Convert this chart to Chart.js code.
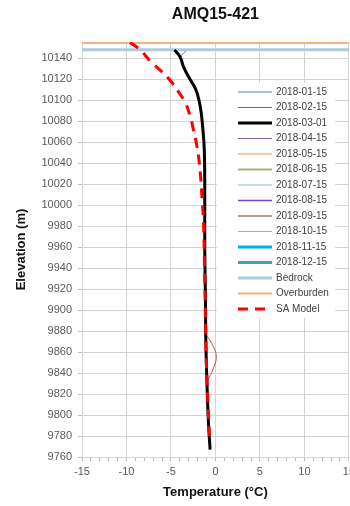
<!DOCTYPE html>
<html>
<head>
<meta charset="utf-8">
<script src="https://cdn.jsdelivr.net/npm/chart.js@4.4.1/dist/chart.umd.min.js"></script>
<style>
html,body{margin:0;padding:0;background:#fff;overflow:hidden;}
</style>
</head>
<body>
<canvas id="profileChart" width="359" height="506"></canvas>
<script>
// series names, in legend order
const seriesNames = [
  "2018-01-15","2018-02-15","2018-03-01","2018-04-15","2018-05-15","2018-06-15",
  "2018-07-15","2018-08-15","2018-09-15","2018-10-15","2018-11-15","2018-12-15",
  "Bedrock","Overburden","SA Model"
];

// 2018-03-01 measured profile
const elevMar01 = [10148,10141,10132,10122,10111,10100,10088,10076,10052,10005,9957,9910,9871,9833,9795,9767];
const tempMar01 = [-4.6,-3.95,-3.6,-3.0,-2.25,-1.85,-1.6,-1.45,-1.25,-1.2,-1.2,-1.12,-1.08,-0.96,-0.8,-0.6];

// 2018-02-15 (only the small bulge shows)
const elevFeb15 = [9877,9868,9856,9843,9832];
const tempFeb15 = [-1.1,-0.4,0.1,-0.3,-0.95];

// 2018-01-15 (short tick near the collar)
const elevJan15 = [10148,10142,10147];
const tempJan15 = [-4.4,-3.95,-3.3];

// SA model
const elevModel = [10155,10148,10137,10127,10119,10108,10098,10085,10071,10057,10043,10025,10005,9986,9929,9871,9833,9775];
const tempModel = [-9.6,-8.45,-7.3,-6.0,-5.1,-4.15,-3.4,-2.85,-2.45,-2.1,-1.85,-1.65,-1.5,-1.35,-1.2,-1.08,-0.95,-0.65];

// reference levels
const bedrockElev = 10148;
const overburdenElev = 10154.5;
const tempRange = [-15, 15];
const elevRange = [9760, 10155.5];

function pts(t, e){ return t.map((v,i)=>({x:v, y:e[i]})); }

const styles = [
  {c:"#5b7fbf", w:1},
  {c:"#c0504d", w:1},
  {c:"#000000", w:3},
  {c:"#8064a2", w:1},
  {c:"#f9b77a", w:1.5},
  {c:"#a3b57f", w:2},
  {c:"#95b3d7", w:1},
  {c:"#7f3fbf", w:1.5},
  {c:"#9c7c5a", w:1.5},
  {c:"#b3a2c7", w:1},
  {c:"#00b0f0", w:3},
  {c:"#4a9ab5", w:3},
  {c:"#a8cce4", w:3},
  {c:"#f4b183", w:2},
  {c:"#ff0000", w:3, dash:[10,7]}
];

const seriesData = seriesNames.map(()=>[]);
seriesData[0] = pts(tempJan15, elevJan15);
seriesData[1] = pts(tempFeb15, elevFeb15);
seriesData[2] = pts(tempMar01, elevMar01);
seriesData[12] = pts(tempRange, [bedrockElev, bedrockElev]);
seriesData[13] = pts(tempRange, [overburdenElev, overburdenElev]);
seriesData[14] = pts(tempModel, elevModel);

const datasets = seriesNames.map((name,i)=>({
  label:name,
  data:seriesData[i],
  showLine:true,
  borderColor:styles[i].c,
  backgroundColor:styles[i].c,
  borderWidth:styles[i].w,
  borderDash:styles[i].dash || [],
  pointRadius:0,
  tension:(i===2 || i===14 || i===1) ? 0.4 : 0,
  order:(i===14) ? -2 : (i===2 ? -1 : 0),
  fill:false
}));

const gridColor = "#d4d4d4";

// legend drawn inside plot, on white box
const insideLegend = {
  id:"insideLegend",
  afterDraw(chart){
    const c = chart.ctx;
    c.save();
    c.fillStyle = "#ffffff";
    c.fillRect(217, 83, 118, 235);
    c.font = "10px 'Liberation Sans', Arial, sans-serif";
    c.textBaseline = "middle";
    c.fillStyle = "#404040";
    chart.data.datasets.forEach((ds,i)=>{
      const y = 92 + i*15.5;
      c.beginPath();
      c.strokeStyle = ds.borderColor;
      c.lineWidth = ds.borderWidth;
      c.setLineDash(ds.borderDash);
      c.moveTo(238, y);
      c.lineTo(272, y);
      c.stroke();
      c.setLineDash([]);
      c.fillText(ds.label, 276, y);
    });
    c.restore();
  }
};

const ctx = document.getElementById("profileChart");

const profileChart = new Chart(ctx,{
  type:"scatter",
  data:{ datasets:datasets },
  options:{
    responsive:false,
    animation:false,
    layout:{ padding:0 },
    plugins:{
      legend:{ display:false },
      tooltip:{ enabled:false },
      title:{
        display:true,
        text:"AMQ15-421",
        fullSize:false,
        color:"#111",
        font:{ family:"'Liberation Sans', Arial", size:16, weight:"bold" },
        padding:{ top:5, bottom:17.8 }
      }
    },
    scales:{
      x:{
        type:"linear",
        min:tempRange[0],
        max:tempRange[1],
        afterFit(scale){ scale.height = 49; },
        border:{ display:true, color:gridColor },
        grid:{
          color:(c)=> (c.tick && c.tick.value % 5 === 0) ? gridColor : "rgba(0,0,0,0)",
          tickColor:"#bfbfbf",
          tickLength:4
        },
        ticks:{
          stepSize:1,
          autoSkip:false,
          maxRotation:0,
          padding:4,
          color:"#595959",
          font:{ family:"'Liberation Sans', Arial", size:11 },
          callback:(v)=> (v % 5 === 0) ? String(v) : ""
        },
        title:{
          display:true,
          text:"Temperature (°C)",
          color:"#111",
          font:{ family:"'Liberation Sans', Arial", size:13, weight:"bold" },
          padding:{ top:0, bottom:6.2 }
        }
      },
      y:{
        type:"linear",
        min:elevRange[0],
        max:elevRange[1],
        afterFit(scale){ scale.width = 82; },
        border:{ display:true, color:gridColor },
        grid:{ color:gridColor, tickColor:"#bfbfbf", tickLength:4 },
        ticks:{
          stepSize:20,
          includeBounds:false,
          padding:6,
          color:"#595959",
          font:{ family:"'Liberation Sans', Arial", size:11 },
          callback:(v)=> String(v)
        },
        title:{
          display:true,
          text:"Elevation (m)",
          color:"#111",
          font:{ family:"'Liberation Sans', Arial", size:13, weight:"bold" },
          padding:{ top:13.2, bottom:0 }
        }
      }
    }
  },
  plugins:[insideLegend]
});
</script>
</body>
</html>
